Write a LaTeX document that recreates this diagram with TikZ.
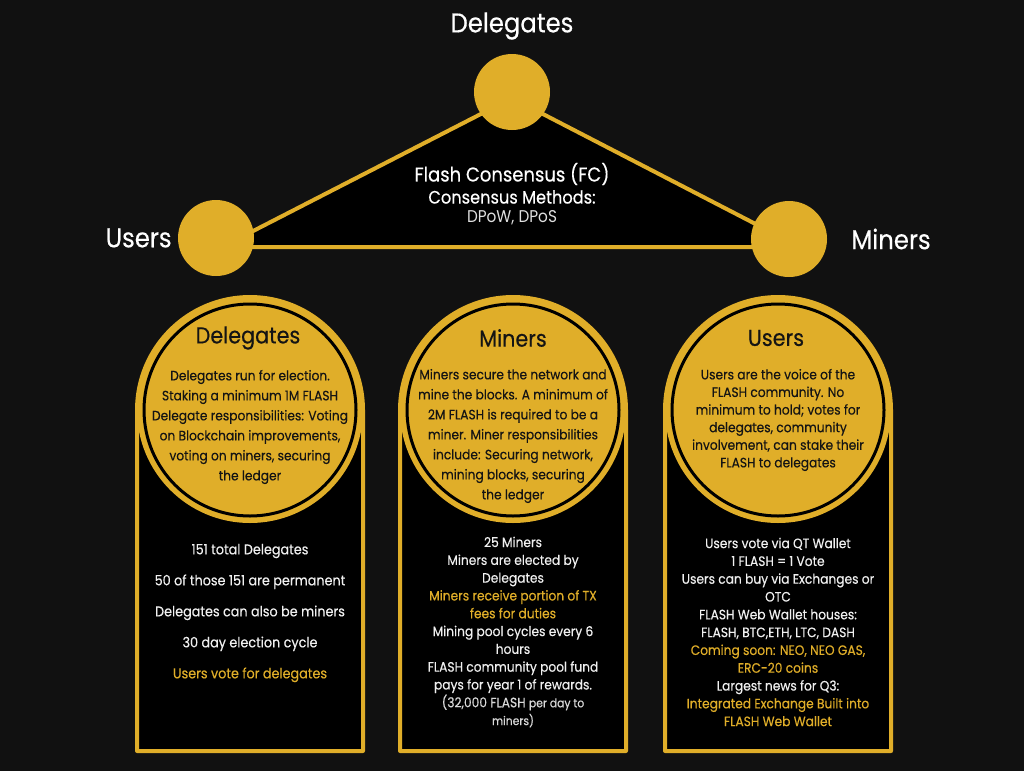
\documentclass[tikz,border=0pt]{standalone}
\usepackage{fontspec}
\setmainfont[FakeStretch=0.9, FakeBold=0.35]{Poppins}
\newfontfamily\thinfont[FakeStretch=0.9]{Poppins}
\usetikzlibrary{positioning}
\definecolor{flashgold}{RGB}{224,174,41}
\definecolor{flashbg}{RGB}{17,17,17}
\definecolor{softwhite}{RGB}{240,240,240}

\begin{document}
\begin{tikzpicture}[x=1pt, y=-1pt,
		dot/.style     = {circle, fill=flashgold, minimum size=76pt, inner sep=0pt},
		bigname/.style = {text=white, inner sep=0pt, font=\fontsize{27}{30}\selectfont},
		fcname/.style  = {text=white, inner sep=0pt, align=center},
		edge/.style    = {draw=flashgold, line width=4pt, line join=round},
		disc/.style    = {circle, fill=flashgold, minimum size=226pt, inner sep=0pt},
		ring/.style    = {circle, draw=black, line width=3pt, minimum size=212pt, inner sep=0pt},
		title/.style   = {text=black!92, inner sep=0pt, font=\fontsize{23}{26}\selectfont},
		intext/.style  = {text=black!92, inner sep=0pt, align=center, font=\fontsize{13.6}{20}\selectfont},
		outtext/.style = {text=softwhite, inner sep=0pt, align=center, font=\fontsize{13.6}{17.8}\selectfont}]
		
		% page and background
		\useasboundingbox (0,0) rectangle (1024,771);
		\fill[flashbg] (0,0) rectangle (1024,771);
		
		% the consensus triangle, behind the three dots
		\coordinate (ta) at (512,98);
		\coordinate (tl) at (222,247);
		\coordinate (tr) at (800,247);
		\draw[edge, fill=black] (ta) -- (tl) -- (tr) -- cycle;
		
		\node[dot] (del) at (512,92) {};
		\node[dot] (usr) at (216,238) {};
		\node[dot] (min) at (789,239) {};
		
		\node[bigname] (delname) at (512,26) {Delegates};
		\node[bigname, left=6pt of usr] (usrname) {Users};
		\node[bigname, right=24pt of min] (minname) {Miners};
		
		\node[fcname, font=\fontsize{20}{24}\selectfont] (fc) at (512,174) {Flash Consensus (FC)};
		\node[fcname, font=\fontsize{18}{22}\selectfont] (fcm) at (512,197) {Consensus Methods:};
		\node[fcname, font=\thinfont\fontsize{17}{20}\selectfont, text=white!88!black] (fcd) at (512,218) {DPoW, DPoS};
		
		% the three arches with their gold discs
		\foreach \cx/\nm in {250/pd, 513/pm, 778/pu}{
			\draw[edge, fill=black] (\cx-113,751) -- (\cx-113,410)
				arc[start angle=180, end angle=360, radius=113] -- (\cx+113,751) -- cycle;
			\node[disc] (\nm) at (\cx,410) {};
			\node[ring] at (\nm) {};
		}
		
		% texts inside the discs
		\node[title] (pdt) at (248,338) {Delegates};
		\node[intext] (pdi) at (250,427) {Delegates run for election.\\ Staking a minimum 1M FLASH\\ Delegate responsibilities: Voting\\ on Blockchain improvements,\\ voting on miners, securing\\ the ledger};
		
		\node[title] (pmt) at (513,338) {Miners};
		\node[intext] (pmi) at (513,436) {Miners secure the network and\\ mine the blocks. A minimum of\\ 2M FLASH is required to be a\\ miner. Miner responsibilities\\ include: Securing network,\\ mining blocks, securing\\ the ledger};
		
		\node[title] (put) at (776,338) {Users};
		\node[intext, font=\fontsize{13.6}{17.6}\selectfont] (pui) at (778,420) {Users are the voice of the\\ FLASH community. No\\ minimum to hold; votes for\\ delegates, community\\ involvement, can stake their\\ FLASH to delegates};
		
		% texts below the discs
		\node[outtext, font=\fontsize{14.2}{31}\selectfont] (pdo) at (250,613) {151 total Delegates\\ 50 of those 151 are permanent\\ Delegates can also be miners\\ 30 day election cycle\\ \textcolor{flashgold}{Users vote for delegates}};
		
		\node[outtext] (pmo) at (513,632) {25 Miners\\ Miners are elected by\\ Delegates\\ \textcolor{flashgold}{Miners receive portion of TX}\\ \textcolor{flashgold}{fees for duties}\\ Mining pool cycles every 6\\ hours\\ FLASH community pool fund\\ pays for year 1 of rewards.\\ \textcolor{white!85!black}{(32,000 FLASH {\fontsize{12}{17.8}\selectfont per day to}}\\ \textcolor{white!85!black}{\fontsize{12}{17.8}\selectfont miners)}};
		
		\node[outtext] (puo) at (778,632) {Users vote via QT Wallet\\ 1 FLASH = 1 Vote\\ Users can buy via Exchanges or\\ OTC\\ FLASH Web Wallet houses:\\ FLASH, BTC,ETH, LTC, DASH\\ \textcolor{flashgold}{Coming soon: NEO, NEO GAS,}\\ \textcolor{flashgold}{ERC-20 coins}\\ Largest news for Q3:\\ \textcolor{flashgold}{Integrated Exchange Built into}\\ \textcolor{flashgold}{FLASH Web Wallet}};
		
	\end{tikzpicture}
\end{document}
